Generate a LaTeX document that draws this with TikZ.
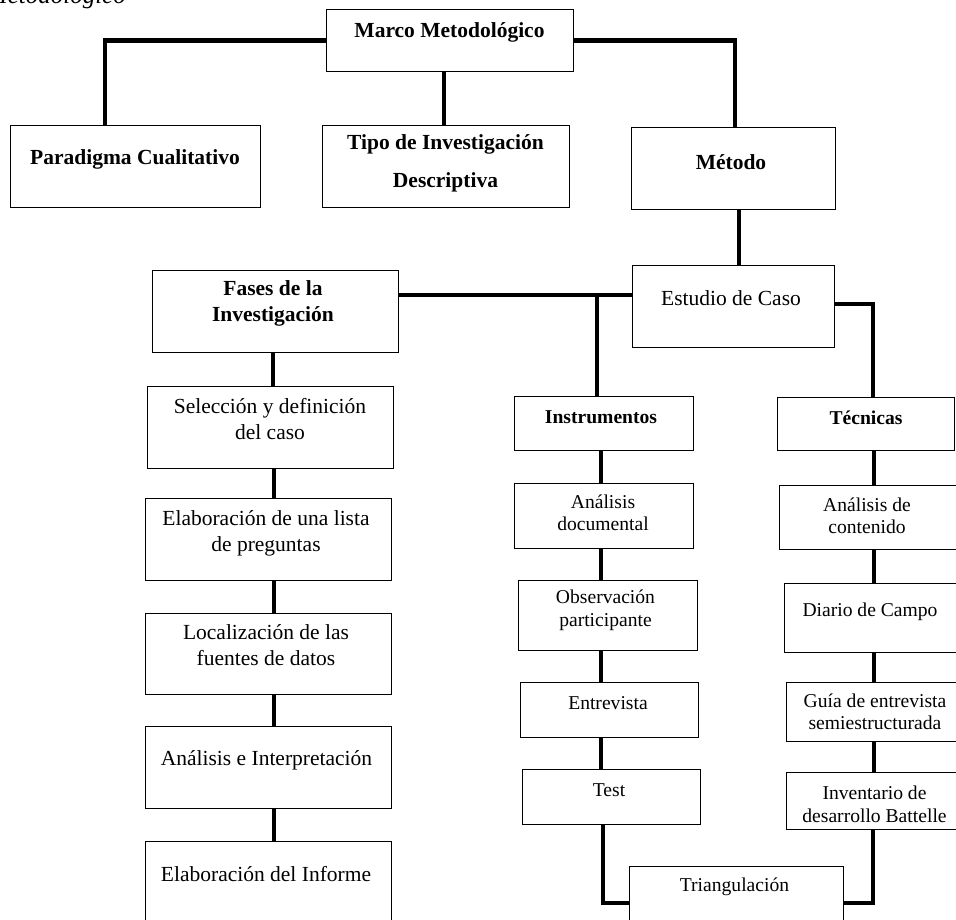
\documentclass[tikz,border=0pt]{standalone}
\usepackage{fontspec}
\setmainfont{Liberation Serif}
\usetikzlibrary{calc}
\newcommand\mkbox[5]{\node[box,anchor=north west,minimum width=#4pt-#2pt,minimum height=#5pt-#3pt] (#1) at (#2,#3) {};}
\begin{document}
\begin{tikzpicture}[x=1pt,y=-1pt,
 box/.style={draw=black, line width=1.2pt, inner sep=0pt},
 conn/.style={line width=4.5pt, black},
 lt/.style={font=\fontsize{21.5}{26}\selectfont, align=center, inner sep=0pt},
 lb/.style={font=\fontsize{21.5}{26}\selectfont\bfseries, align=center, inner sep=0pt},
 rt/.style={font=\fontsize{19.6}{22.5}\selectfont, align=center, inner sep=0pt},
 rb/.style={font=\fontsize{19.6}{22.5}\selectfont\bfseries, align=center, inner sep=0pt}]
\useasboundingbox (0,0) rectangle (956,920);
\clip (0,0) rectangle (956,920);

% caption (cut off at top, as in the reference)
\node[font=\fontsize{25}{29}\selectfont\itshape, anchor=base east, inner sep=0pt] (cap) at (126,4) {Metodológico};

% boxes
\mkbox{mm}{326}{9}{573}{71}
\mkbox{pc}{10}{125}{260}{207}
\mkbox{ti}{322}{125}{569}{207}
\mkbox{me}{631}{127}{835}{209}
\mkbox{fa}{152}{270}{398}{352}
\mkbox{ec}{632}{265}{834}{347}
\mkbox{se}{147}{386}{393}{468}
\mkbox{el}{145}{498}{391}{580}
\mkbox{lo}{145}{613}{391}{694}
\mkbox{an}{145}{726}{391}{808}
\mkbox{inf}{145}{841}{391}{935}
\mkbox{ins}{514}{396}{693}{450}
\mkbox{tec}{777}{397}{954}{450}
\mkbox{ad}{514}{483}{693}{548}
\mkbox{op}{518}{580}{697}{650}
\mkbox{en}{520}{682}{698}{737}
\mkbox{te}{522}{769}{700}{824}
\mkbox{tr}{629}{866}{843}{935}
\mkbox{ac}{779}{485}{958}{549}
\mkbox{dc}{784}{583}{958}{652}
\mkbox{gu}{786}{682}{958}{741}
\mkbox{iv}{786}{772}{958}{829}

% texts
\node[lb] (tmm) at (449.5,32) {Marco Metodológico};
\node[lb] (tpc) at (135,159) {Paradigma Cualitativo};
\node[lb, font=\fontsize{21.5}{38}\selectfont\bfseries] (tti) at (445.5,163) {Tipo de Investigación\\Descriptiva};
\node[lb] (tme) at (731,162) {Método};
\node[lb] (tfa) at (273,303) {Fases de la\\Investigación};
\node[lt] (tec0) at (731,298) {Estudio de Caso};
\node[lt] (tse) at (270,419) {Selección y definición\\del caso};
\node[lt] (tel) at (266,533.5) {Elaboración de una lista\\de preguntas};
\node[lt] (tlo) at (266,645.5) {Localización de las\\fuentes de datos};
\node[lt] (tan) at (266.5,760) {Análisis e Interpretación};
\node[lt] (tinf) at (266,874) {Elaboración del Informe};
\node[rb] (tins) at (601,417) {Instrumentos};
\node[rb] (ttec) at (866,418) {Técnicas};
\node[rt] (tad) at (603,513) {Análisis\\documental};
\node[rt] (top) at (605.5,610.5) {Observación\\participante};
\node[rt] (ten) at (608,703) {Entrevista};
\node[rt] (tte) at (609,790) {Test};
\node[rt] (ttr) at (734.5,887) {Triangulación};
\node[rt] (tac) at (867,516) {Análisis de\\contenido};
\node[rt] (tdc) at (870,612) {Diario de Campo};
\node[rt] (tgu) at (875,712) {Guía de entrevista\\semiestructurada};
\node[rt] (tiv) at (874.5,804.5) {Inventario de\\desarrollo Battelle};

% connectors
\draw[conn] (mm.west) -| ($(pc.north west)+(95,0)$);
\draw[conn] ($(mm.south west)+(118,0)$) -- ($(ti.north west)+(122,0)$);
\draw[conn] (mm.east) -| ($(me.north west)+(104,0)$);
\draw[conn] ($(me.south west)+(108,0)$) -- ($(ec.north west)+(107,0)$);
\coordinate (fj) at ($(fa.north east)+(0,25)$);
\draw[conn] (fj) -- ($(ec.north west)+(0,30)$);
\draw[conn] ($(ins.north west)+(83,0)$) coordinate (ij) -- (ij |- fj);
\draw[conn] ($(ec.north east)+(0,39)$) -| ($(tec.north west)+(96,0)$);
\draw[conn] ($(fa.south west)+(121,0)$) -- ($(se.north west)+(126,0)$);
\draw[conn] ($(se.south west)+(127,0)$) -- ($(el.north west)+(129,0)$);
\draw[conn] ($(el.south west)+(129,0)$) -- ($(lo.north west)+(129,0)$);
\draw[conn] ($(lo.south west)+(129,0)$) -- ($(an.north west)+(129,0)$);
\draw[conn] ($(an.south west)+(129,0)$) -- ($(inf.north west)+(129,0)$);
\draw[conn] ($(ins.south west)+(87,0)$) -- ($(ad.north west)+(87,0)$);
\draw[conn] ($(ad.south west)+(87,0)$) -- ($(op.north west)+(83,0)$);
\draw[conn] ($(op.south west)+(83,0)$) -- ($(en.north west)+(81,0)$);
\draw[conn] ($(en.south west)+(81,0)$) -- ($(te.north west)+(79,0)$);
\draw[conn] ($(tec.south west)+(97,0)$) -- ($(ac.north west)+(95,0)$);
\draw[conn] ($(ac.south west)+(95,0)$) -- ($(dc.north west)+(90,0)$);
\draw[conn] ($(dc.south west)+(90,0)$) -- ($(gu.north west)+(88,0)$);
\draw[conn] ($(gu.south west)+(88,0)$) -- ($(iv.north west)+(88,0)$);
\draw[conn] ($(te.south west)+(81,0)$) |- ($(tr.north west)+(0,37)$);
\draw[conn] ($(iv.south west)+(87,0)$) |- ($(tr.north east)+(0,37)$);
\end{tikzpicture}
\end{document}
